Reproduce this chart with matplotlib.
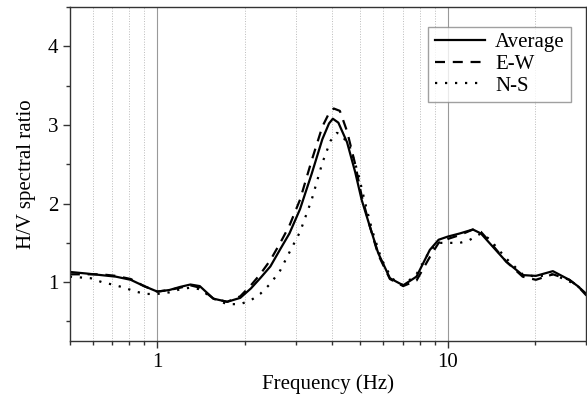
import numpy as np
import matplotlib; matplotlib.use('Agg'); import matplotlib.pyplot as plt
from matplotlib.ticker import LogLocator, NullFormatter, MultipleLocator, FixedLocator, FixedFormatter

plt.rcParams['font.family'] = ['Liberation Serif', 'DejaVu Serif']
plt.rcParams['font.size'] = 15

# H/V spectral ratio curves
freq_avg = [0.5, 0.57, 0.64, 0.72, 0.81, 0.9, 1.0, 1.1, 1.2, 1.3, 1.4, 1.56, 1.74, 1.93, 2.1, 2.26,
            2.45, 2.65, 2.85, 3.1, 3.4, 3.7, 3.9, 4.02, 4.2, 4.5, 4.8, 5.05, 5.4, 5.76, 6.32, 7.02,
            7.8, 8.67, 9.3, 10.0, 11.0, 12.2, 13.0, 13.9, 15.9, 18.1, 20.1, 23.0, 26.2, 28.0, 30.0]
hv_avg = [1.13, 1.11, 1.09, 1.07, 1.03, 0.95, 0.88, 0.9, 0.94, 0.97, 0.95, 0.79, 0.75, 0.80, 0.92, 1.05,
          1.20, 1.42, 1.62, 1.93, 2.38, 2.82, 3.02, 3.08, 3.03, 2.78, 2.4, 2.05, 1.7, 1.37, 1.05, 0.96,
          1.07, 1.41, 1.54, 1.58, 1.62, 1.67, 1.62, 1.5, 1.26, 1.09, 1.08, 1.14, 1.03, 0.95, 0.85]

freq_ew = [0.5, 0.57, 0.64, 0.72, 0.81, 0.9, 1.0, 1.1, 1.2, 1.3, 1.4, 1.56, 1.74, 1.93, 2.1, 2.26,
           2.45, 2.65, 2.85, 3.1, 3.4, 3.7, 3.9, 4.05, 4.25, 4.5, 4.8, 5.05, 5.4, 5.76, 6.32, 7.02,
           7.8, 8.67, 9.3, 10.0, 11.0, 12.2, 13.0, 13.9, 15.9, 18.1, 20.1, 23.0, 26.2, 28.0, 30.0]
hv_ew = [1.10, 1.10, 1.10, 1.08, 1.04, 0.95, 0.88, 0.9, 0.93, 0.96, 0.93, 0.79, 0.75, 0.82, 0.96, 1.10,
         1.28, 1.50, 1.72, 2.05, 2.55, 2.98, 3.15, 3.21, 3.18, 2.92, 2.5, 2.1, 1.7, 1.35, 1.04, 0.95,
         1.02, 1.32, 1.5, 1.55, 1.6, 1.67, 1.64, 1.52, 1.26, 1.07, 1.03, 1.1, 1.03, 0.95, 0.83]

freq_ns = [0.5, 0.59, 0.645, 0.70, 0.77, 0.84, 0.92, 1.0, 1.1, 1.2, 1.3, 1.4, 1.56, 1.74, 1.93, 2.1,
           2.26, 2.45, 2.65, 2.85, 3.1, 3.4, 3.7, 3.95, 4.15, 4.3, 4.6, 4.9, 5.2, 5.5, 5.9, 6.4, 7.02,
           7.8, 8.67, 9.3, 10.0, 11.0, 11.8, 13.0, 13.9, 15.9, 18.1, 20.1, 23.0, 26.2, 28.0, 30.0]
hv_ns = [1.07, 1.05, 1.0, 0.97, 0.93, 0.88, 0.85, 0.85, 0.87, 0.91, 0.93, 0.91, 0.79, 0.72, 0.72, 0.77,
         0.85, 0.98, 1.15, 1.38, 1.64, 2.05, 2.52, 2.8, 2.9, 2.88, 2.72, 2.4, 2.0, 1.65, 1.3, 1.05, 0.96,
         1.1, 1.4, 1.5, 1.5, 1.5, 1.53, 1.62, 1.55, 1.3, 1.1, 1.07, 1.1, 1.01, 0.95, 0.85]

fig = plt.figure(figsize=(5.87, 3.98), dpi=100)
ax = fig.add_axes([0.119, 0.143, 0.88, 0.839])

ax.plot(freq_avg, hv_avg, color='black', lw=1.6, ls='-', label='Average')
ax.plot(freq_ew, hv_ew, color='black', lw=1.6, ls=(0, (4.5, 3.5)), label='E-W')
ax.plot(freq_ns, hv_ns, color='black', lw=1.6, ls=(0, (1, 3.5)), label='N-S')

ax.set_xscale('log')
ax.set_xlim(0.5, 30)
ax.set_ylim(0.25, 4.5)
ax.xaxis.set_major_locator(FixedLocator([1, 10]))
ax.xaxis.set_major_formatter(FixedFormatter(['1', '10']))
ax.xaxis.set_minor_locator(LogLocator(base=10, subs=np.arange(2, 10)))
ax.xaxis.set_minor_formatter(NullFormatter())
ax.yaxis.set_major_locator(MultipleLocator(1))
ax.yaxis.set_minor_locator(MultipleLocator(0.5))

ax.grid(True, which='major', axis='x', color='#999999', lw=0.8, ls='-')
ax.grid(True, which='minor', axis='x', color='#bbbbbb', lw=0.7, ls=':')
ax.set_axisbelow(True)

for s in ax.spines.values():
    s.set_color('#333333'); s.set_linewidth(1.0)
ax.tick_params(which='major', direction='out', length=5, width=1.0, color='#333333', labelsize=15)
ax.tick_params(which='minor', direction='out', length=3, width=1.0, color='#333333')

ax.set_xlabel('Frequency (Hz)', fontsize=15, labelpad=2)
ax.set_ylabel('H/V spectral ratio', fontsize=15, labelpad=8)

leg = ax.legend(loc='upper right', bbox_to_anchor=(0.97, 0.942), fontsize=15, handlelength=2.4,
                frameon=True, fancybox=False, borderpad=0.3, labelspacing=0.1, handletextpad=0.5,
                borderaxespad=0)
leg.get_frame().set_edgecolor('#888888')
leg.get_frame().set_linewidth(1.0)

fig.savefig('out.png', dpi=100)
